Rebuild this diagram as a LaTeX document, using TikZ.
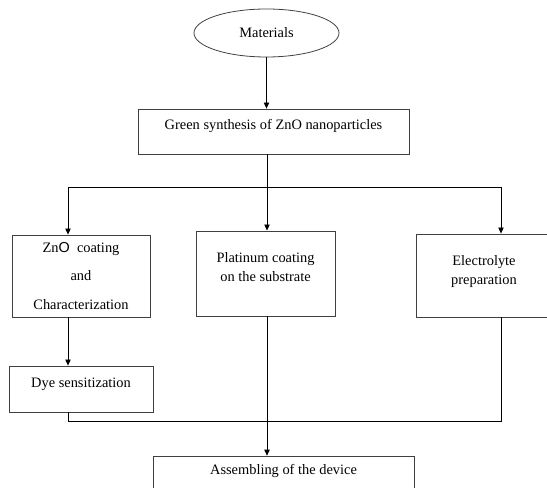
\documentclass[tikz,border=0pt]{standalone}
\usepackage{fontspec}
\setmainfont{Liberation Serif}
\setsansfont{Liberation Sans}
\usetikzlibrary{arrows.meta,shapes.geometric}
\newcommand{\linesof}[1]{\begin{tabular}[t]{@{}c@{}}#1\end{tabular}}
\tikzset{
    stepbox/.style={draw=black!75, line width=0.6pt, inner sep=0pt},
    flow/.style={line width=0.6pt},
}

\begin{document}
\begin{tikzpicture}[x=0.75pt,y=-0.75pt,font=\fontsize{10.8}{13}\selectfont,>={Triangle[length=4.5pt,width=4pt]}]
            \useasboundingbox (0,0) rectangle (547,488);

            \node[ellipse,draw=black!75,line width=0.6pt,minimum width=108.75pt,minimum height=36pt,inner sep=0pt] (mat) at (266.5,33) {Materials};
            \node[stepbox,minimum width=203.25pt,text height=15.75pt,text depth=18pt] (green) at (273.5,131.5) {Green synthesis of ZnO nanoparticles};

            \node[stepbox,minimum width=103.5pt,text height=13pt,text depth=48.5pt] (zno) at (81,276) {\linesof{Zn{\sffamily O}~ coating\\[8.4pt] and\\[8.4pt] Characterization}};
            \node[stepbox,minimum width=104.25pt,text height=23.5pt,text depth=40.3pt] (plat) at (265.5,273.5) {\linesof{Platinum coating\\[1.2pt] on the substrate}};
            \node[stepbox,minimum width=102pt,text height=23.5pt,text depth=38.8pt] (elec) at (484,275.5) {\linesof{Electrolyte\\[1.2pt] preparation}};

            \node[stepbox,minimum width=108pt,text height=16pt,text depth=18.5pt] (dye) at (81,389) {Dye sensitization};
            \node[stepbox,minimum width=195.75pt,text height=13.7pt,text depth=30pt] (asm) at (283.5,485.2) {Assembling of the device};

            \coordinate (split) at (267,187);
            \coordinate (dropL) at (68,187);
            \coordinate (dropR) at (501,187);
            \coordinate (joinL) at (68,421);
            \coordinate (joinR) at (501,421);

            \draw[flow,->] (mat.south) -- (mat.south |- green.north);
            \draw[flow,->] (split |- green.south) -- (split |- plat.north);
            \draw[flow] (dropL) -- (dropR);
            \draw[flow,->] (dropL) -- (dropL |- zno.north);
            \draw[flow,->] (dropR) -- (dropR |- elec.north);
            \draw[flow,->] (dropL |- zno.south) -- (dropL |- dye.north);
            \draw[flow] (joinL |- dye.south) -- (joinL) -- (joinR) -- (joinR |- elec.south);
            \draw[flow,->] (split |- plat.south) -- (split |- asm.north);
\end{tikzpicture}
\end{document}
